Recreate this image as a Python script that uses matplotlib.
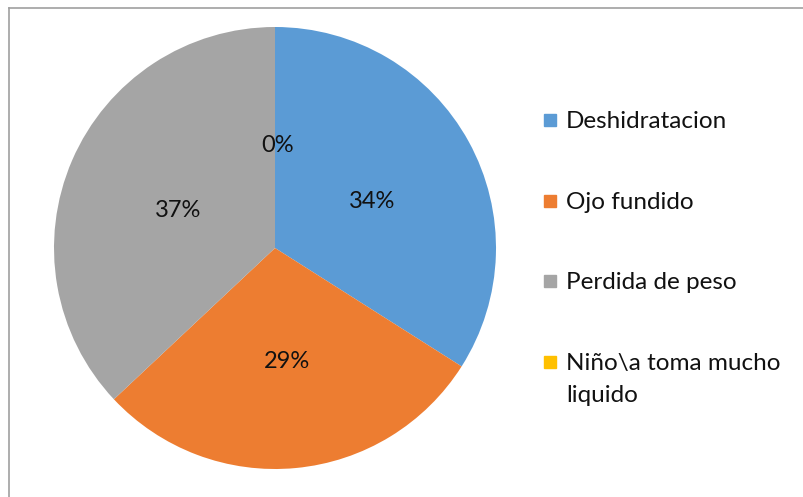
import matplotlib.pyplot as plt
from matplotlib.lines import Line2D
from matplotlib.patches import Rectangle

labels = ['Deshidratacion', 'Ojo fundido', 'Perdida de peso',
          'Niño\\a toma mucho\nliquido']
values = [34, 29, 37, 0]
colors = ['#5B9BD5', '#ED7D31', '#A5A5A5', '#FFC000']

if __name__ == '__main__':
    plt.rcParams['font.family'] = ['Lato', 'DejaVu Sans']

    fig = plt.figure(figsize=(8.04, 4.97), dpi=100)
    W, H = 804, 497
    cx, cy, r = 275, 248, 221
    ax = fig.add_axes([(cx - r) / W, (H - cy - r) / H, 2 * r / W, 2 * r / H])

    wedges, texts, autotexts = ax.pie(
        values, colors=colors, startangle=90, counterclock=False,
        autopct='%1.0f%%', pctdistance=0.49,
        textprops={'fontsize': 17, 'color': '#111111'},
    )
    # percent labels sit a few pixels lower in the original
    for t in autotexts:
        x, y = t.get_position()
        t.set_position((x + 0.01, y - 0.025))
    ax.set_xlim(-1, 1)
    ax.set_ylim(-1, 1)

    # legend drawn by hand so the square sits on the first text line
    def px(x, y):
        return x / W, 1 - y / H

    for i, (lab, col) in enumerate(zip(labels, colors)):
        base = 128 + i * 80.7
        x0, y0 = px(544, base - 2)
        fig.add_artist(Rectangle((x0, y0), 12 / W, 12 / H, color=col,
                                 transform=fig.transFigure))
        for k, line in enumerate(lab.split('\n')):
            tx, ty = px(566, base + k * 32)
            fig.text(tx, ty, line, fontsize=17.5, va='baseline', color='#111111')

    # chart frame edges visible in the screenshot
    fig.add_artist(Line2D([9 / W, 9 / W], [0, 1 - 8 / H],
                          transform=fig.transFigure, color='#a0a0a0', lw=1.2))
    fig.add_artist(Line2D([9 / W, 1], [1 - 8 / H, 1 - 8 / H],
                          transform=fig.transFigure, color='#a0a0a0', lw=1.2))

    fig.savefig('out.png', dpi=100)
